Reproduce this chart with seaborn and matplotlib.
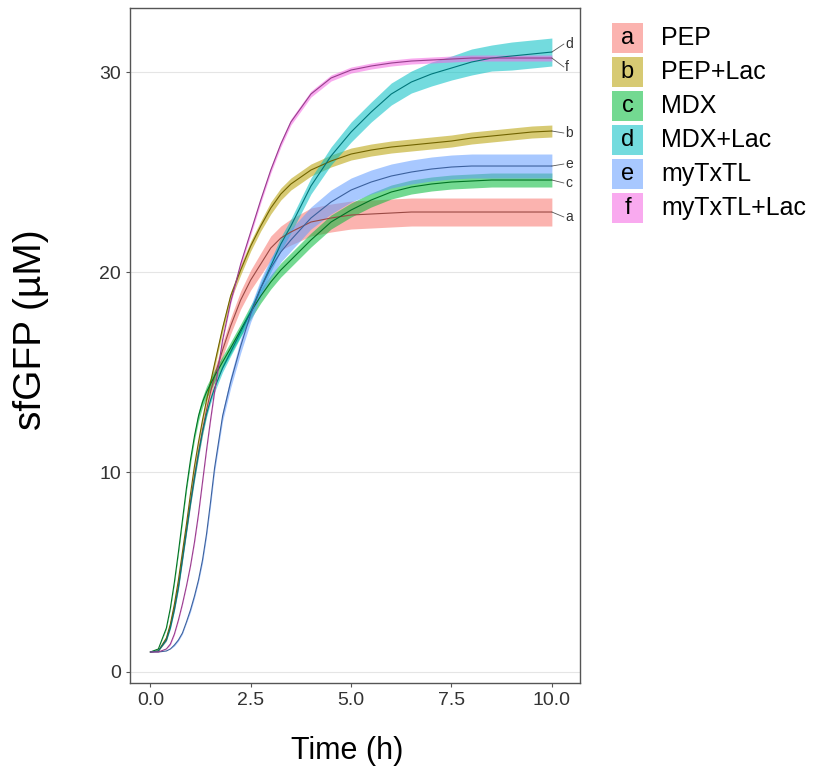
import numpy as np
import pandas as pd
import matplotlib.pyplot as plt
import matplotlib.colors as mcolors
from matplotlib.patches import Rectangle
import seaborn as sns

sns.set_theme(style="white")
plt.rcParams['font.family'] = ['Liberation Sans', 'DejaVu Sans']

# time points (h)
time_h = [0, 0.2, 0.4, 0.5, 0.6, 0.7, 0.8, 0.9, 1.0, 1.1, 1.2, 1.3, 1.4, 1.5, 1.6, 1.8,
          2.0, 2.25, 2.5, 2.75, 3.0, 3.25, 3.5, 4.0, 4.5, 5.0, 5.5, 6.0, 6.5, 7.0, 7.5,
          8.0, 8.5, 9.0, 9.5, 10.0]

letters = ['a', 'b', 'c', 'd', 'e', 'f']
conditions = ['PEP', 'PEP+Lac', 'MDX', 'MDX+Lac', 'myTxTL', 'myTxTL+Lac']
colours = ['#F8766D', '#B79F00', '#00BA38', '#00BFC4', '#619CFF', '#F564E3']

# mean sfGFP (uM) and half width of the ribbon
pep_mean = [1.0, 1.05, 1.6, 2.3, 3.2, 4.3, 5.7, 7.1, 8.5, 9.8, 11.0, 12.1, 13.1, 14.0, 14.8, 16.1,
            17.3, 18.6, 19.6, 20.4, 21.2, 21.7, 22.0, 22.5, 22.7, 22.85, 22.9, 22.95, 23.0, 23.0,
            23.0, 23.0, 23.0, 23.0, 23.0, 23.0]
pep_sd = [0, 0, 0.05, 0.05, 0.1, 0.1, 0.15, 0.15, 0.2, 0.2, 0.25, 0.25, 0.3, 0.3, 0.35, 0.35,
          0.4, 0.45, 0.5, 0.55, 0.6, 0.6, 0.65, 0.7, 0.7, 0.7, 0.7, 0.7, 0.7, 0.7,
          0.7, 0.7, 0.7, 0.7, 0.7, 0.7]

peplac_mean = [1.0, 1.05, 1.7, 2.4, 3.4, 4.6, 6.0, 7.4, 8.9, 10.3, 11.5, 12.6, 13.6, 14.5, 15.4, 17.2,
               18.8, 20.1, 21.3, 22.3, 23.2, 23.9, 24.4, 25.1, 25.55, 25.9, 26.1, 26.25, 26.35, 26.45,
               26.55, 26.7, 26.8, 26.9, 27.0, 27.05]
peplac_sd = [0, 0, 0.05, 0.05, 0.05, 0.1, 0.1, 0.1, 0.1, 0.15, 0.15, 0.15, 0.15, 0.15, 0.2, 0.2,
             0.2, 0.25, 0.25, 0.25, 0.3, 0.3, 0.3, 0.3, 0.3, 0.3, 0.3, 0.3, 0.3, 0.3,
             0.3, 0.3, 0.3, 0.3, 0.3, 0.3]

mdx_mean = [1.0, 1.15, 2.2, 3.2, 4.5, 6.0, 7.6, 9.2, 10.6, 11.8, 12.8, 13.5, 14.0, 14.4, 14.8, 15.5,
            16.2, 17.1, 18.0, 18.8, 19.5, 20.1, 20.6, 21.6, 22.5, 23.1, 23.6, 24.0, 24.25, 24.4,
            24.5, 24.55, 24.6, 24.6, 24.6, 24.6]
mdx_sd = [0, 0, 0.05, 0.05, 0.1, 0.1, 0.15, 0.15, 0.2, 0.2, 0.25, 0.25, 0.3, 0.3, 0.3, 0.3,
          0.3, 0.3, 0.35, 0.35, 0.35, 0.35, 0.35, 0.35, 0.35, 0.35, 0.35, 0.35, 0.35, 0.35,
          0.35, 0.35, 0.35, 0.35, 0.35, 0.35]

mdxlac_mean = [1.0, 1.05, 1.6, 2.2, 3.1, 4.2, 5.6, 7.0, 8.4, 9.7, 10.9, 12.0, 12.9, 13.6, 14.2, 15.2,
               16.0, 17.0, 18.0, 19.2, 20.3, 21.4, 22.3, 24.3, 25.8, 27.0, 28.0, 28.9, 29.5, 29.9,
               30.2, 30.5, 30.7, 30.8, 30.9, 31.0]
mdxlac_sd = [0, 0, 0.05, 0.05, 0.05, 0.1, 0.1, 0.1, 0.1, 0.15, 0.15, 0.15, 0.15, 0.15, 0.2, 0.2,
             0.2, 0.25, 0.25, 0.3, 0.3, 0.35, 0.35, 0.4, 0.45, 0.5, 0.5, 0.55, 0.55, 0.6,
             0.6, 0.65, 0.65, 0.7, 0.7, 0.7]

tx_mean = [1.0, 1.0, 1.05, 1.15, 1.35, 1.6, 1.95, 2.5, 3.1, 3.8, 4.6, 5.6, 6.9, 8.5, 10.2, 12.8,
           14.5, 16.3, 17.9, 19.2, 20.2, 21.0, 21.6, 22.7, 23.5, 24.1, 24.5, 24.8, 25.0, 25.15,
           25.25, 25.3, 25.3, 25.3, 25.3, 25.3]
tx_sd = [0, 0, 0, 0, 0.05, 0.05, 0.05, 0.05, 0.1, 0.1, 0.1, 0.15, 0.15, 0.2, 0.2, 0.25,
         0.3, 0.35, 0.4, 0.45, 0.5, 0.5, 0.55, 0.55, 0.6, 0.6, 0.6, 0.6, 0.6, 0.6,
         0.6, 0.6, 0.6, 0.6, 0.6, 0.6]

txlac_mean = [1.0, 1.0, 1.15, 1.4, 1.9, 2.6, 3.4, 4.3, 5.3, 6.5, 7.9, 9.5, 11.1, 12.6, 14.0, 16.6,
              18.5, 20.4, 22.0, 23.6, 25.1, 26.4, 27.5, 28.9, 29.7, 30.1, 30.3, 30.45, 30.55, 30.6,
              30.65, 30.7, 30.7, 30.7, 30.7, 30.7]
txlac_sd = [0, 0, 0, 0.05, 0.05, 0.05, 0.05, 0.05, 0.05, 0.1, 0.1, 0.1, 0.1, 0.1, 0.1, 0.1,
            0.1, 0.15, 0.15, 0.15, 0.15, 0.15, 0.15, 0.15, 0.15, 0.15, 0.15, 0.15, 0.15, 0.15,
            0.15, 0.15, 0.15, 0.15, 0.15, 0.15]

means = [pep_mean, peplac_mean, mdx_mean, mdxlac_mean, tx_mean, txlac_mean]
sds = [pep_sd, peplac_sd, mdx_sd, mdxlac_sd, tx_sd, txlac_sd]

# where the end labels sit relative to the last value
label_shift = {'a': -0.25, 'b': -0.1, 'c': -0.15, 'd': 0.4, 'e': 0.1, 'f': -0.45}

rows = []
for let, m, s in zip(letters, means, sds):
    for t, v, e in zip(time_h, m, s):
        rows.append({'time': t, 'sfgfp': v, 'lo': v - e, 'hi': v + e, 'group': let})
df = pd.DataFrame(rows)


def darker(c, f=0.62):
    r, g, b = mcolors.to_rgb(c)
    return (r * f, g * f, b * f)


line_cols = {let: darker(c) for let, c in zip(letters, colours)}

fig = plt.figure(figsize=(8.14, 7.72), dpi=100)
ax = fig.add_axes([0.160, 0.1153, 0.5525, 0.8743])

for let, c in zip(letters, colours):
    sub = df[df['group'] == let]
    ax.fill_between(sub['time'], sub['lo'], sub['hi'], color=c, alpha=0.55, lw=0, zorder=2)

sns.lineplot(data=df, x='time', y='sfgfp', hue='group', palette=line_cols,
             linewidth=0.8, legend=False, errorbar=None, ax=ax, zorder=3)

# end labels with short leader lines
for let, m in zip(letters, means):
    y_end = m[-1]
    y_lab = y_end + label_shift[let]
    ax.plot([time_h[-1], 10.3], [y_end, y_lab], color='#555555', lw=0.6, zorder=3)
    ax.text(10.33, y_lab, let, fontsize=10, color='#333333', va='center', ha='left')

ax.set_xlim(-0.5, 10.7)
ax.set_ylim(-0.55, 33.2)
ax.set_xticks([0, 2.5, 5, 7.5, 10])
ax.set_xticklabels(['0.0', '2.5', '5.0', '7.5', '10.0'])
ax.set_yticks([0, 10, 20, 30])
ax.yaxis.grid(True, color='#E5E5E5', lw=0.8)
ax.xaxis.grid(False)
ax.set_axisbelow(True)
ax.tick_params(axis='both', length=3, width=0.8, color='#555555',
               labelsize=14, labelcolor='#333333', bottom=True, left=True)
for sp in ax.spines.values():
    sp.set_color('#555555')
    sp.set_linewidth(1.0)

ax.set_xlabel('Time (h)', fontsize=22, color='black')
ax.set_ylabel('sfGFP (µM)', fontsize=28, color='black')
ax.xaxis.set_label_coords(0.482, -0.078)
ax.yaxis.set_label_coords(-0.18, 0.523)

# legend drawn by hand: filled key with letter, then the condition name
fw, fh = 814.0, 772.0
for i, (let, cond, c) in enumerate(zip(letters, conditions, colours)):
    yc = 38 + i * 34
    fig.patches.append(Rectangle((612 / fw, 1 - (yc + 14.5) / fh), 31 / fw, 29 / fh,
                                 transform=fig.transFigure, color=c, alpha=0.55, lw=0))
    fig.text(627.5 / fw, 1 - yc / fh, let, fontsize=17, ha='center', va='center', color='black')
    fig.text(661 / fw, 1 - yc / fh, cond, fontsize=18, ha='left', va='center', color='black')

fig.savefig('out.png', dpi=100, facecolor='white')
